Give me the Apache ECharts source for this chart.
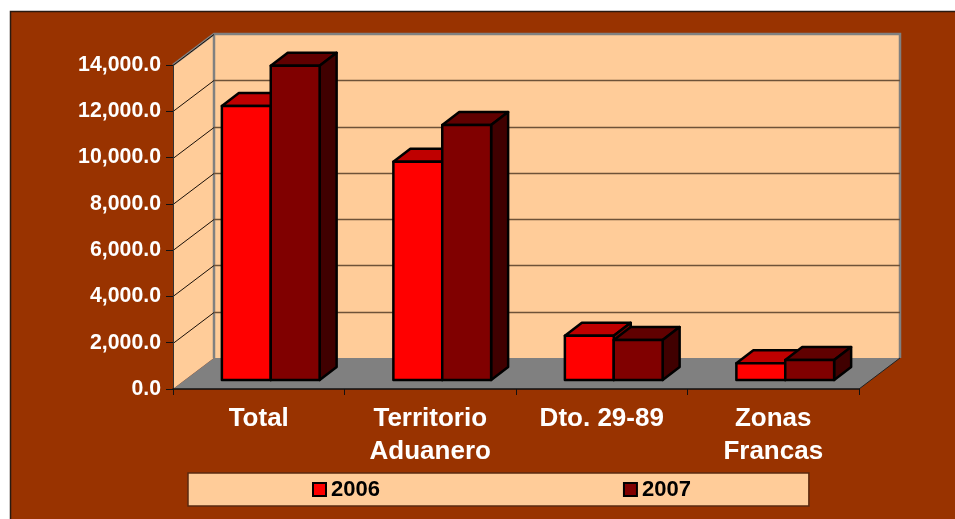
<!DOCTYPE html>
<html><head><meta charset="utf-8">
<style>html,body{margin:0;padding:0;background:#fff;}#c{width:955px;height:519px;}</style>
<script src="https://cdn.jsdelivr.net/npm/echarts@6/dist/echarts.min.js"></script>
</head><body><div id="c"></div>
<script>
const categories = ['Total', 'Territorio\nAduanero', 'Dto. 29-89', 'Zonas\nFrancas'];
const values2006 = [11840, 9430, 1910, 720];
const values2007 = [13580, 11020, 1730, 860];
const yTicks = [2000, 4000, 6000, 8000, 10000, 12000, 14000];
const font = '"Liberation Sans", Arial, sans-serif';
const DX = 41, DY = -31;        // full depth of the plot box
const BX = 12, BY = -9;         // bar front-plane offset
const PX = 17, PY = -13;        // bar depth
const chart = echarts.init(document.getElementById('c'), null, {renderer: 'canvas'});

function poly(points, fill, stroke, lw) {
  return {type: 'polygon', shape: {points}, style: {fill, stroke: stroke || 'none', lineWidth: lw || 0, lineJoin: 'round'}};
}
function wallItem(params, api) {
  const o = api.coord([0, 0]), t = api.coord([0, 14000]);
  const x0 = params.coordSys.x, x1 = params.coordSys.x + params.coordSys.width;
  const y0 = o[1], y1 = t[1];
  return {type: 'group', children: [
    poly([[x0, y0], [x0 + DX, y0 + DY], [x0 + DX, y1 + DY], [x0, y1]], '#FFCC99'),
    poly([[x0 + DX, y0 + DY], [x1 + DX, y0 + DY], [x1 + DX, y1 + DY], [x0 + DX, y1 + DY]], '#FFCC99'),
    poly([[x0, y0], [x0 + DX, y0 + DY], [x1 + DX, y0 + DY], [x1, y0]], '#808080'),
    {type: 'polyline', shape: {points: [[x0, y1], [x0 + DX, y1 + DY], [x1 + DX, y1 + DY], [x1 + DX, y0 + DY]]}, style: {fill: 'none', stroke: '#808080', lineWidth: 2.5}},
    {type: 'line', shape: {x1: x0 + DX, y1: y1 + DY, x2: x0 + DX, y2: y0 + DY}, style: {stroke: '#808080', lineWidth: 2.5}},
    {type: 'line', shape: {x1: x1, y1: y0, x2: x1 + DX, y2: y0 + DY}, style: {stroke: '#222', lineWidth: 1}}
  ]};
}
function gridItem(params, api) {
  const p = api.coord([0, api.value(0)]);
  const x0 = params.coordSys.x, x1 = x0 + params.coordSys.width, y = Math.round(p[1]) + 0.5;
  const children = [];
  children.push({type: 'line', shape: {x1: x0, y1: y, x2: x0 + DX, y2: y + DY}, style: {stroke: '#1a1008', lineWidth: 1}});
  if (api.value(0) < 14000)
    children.push({type: 'line', shape: {x1: x0 + DX, y1: y + DY, x2: x1 + DX, y2: y + DY}, style: {stroke: '#6e5238', lineWidth: 1.5}});
  return {type: 'group', children};
}
function makeBar(sign, front, top, side) {
  return function (params, api) {
    const c = api.value(0), v = api.value(1);
    const base = api.coord([c, 0]), head = api.coord([c, v]);
    const w = api.size([1, 0])[0] * 0.285;
    const cx = base[0] + BX;
    const l = sign < 0 ? cx - w : cx, r = sign < 0 ? cx : cx + w;
    const b = base[1] + BY, t = head[1] + BY;
    const st = '#000', lw = 2.5;
    return {type: 'group', children: [
      poly([[l, t], [r, t], [r + PX, t + PY], [l + PX, t + PY]], top, st, lw),
      poly([[r, t], [r + PX, t + PY], [r + PX, b + PY], [r, b]], side, st, lw),
      poly([[l, t], [r, t], [r, b], [l, b]], front, st, lw)
    ]};
  };
}
const option = {
  animation: false,
  backgroundColor: '#ffffff',
  graphic: [{type: 'rect', silent: true, z: -10, shape: {x: 10.5, y: 11.5, width: 960, height: 520},
    style: {fill: '#993300', stroke: '#2a1a10', lineWidth: 1.5}}],
  grid: {left: 173, right: 96, top: 65, bottom: 130, containLabel: false},
  legend: {
    data: ['2006', '2007'], left: 188, top: 473, orient: 'horizontal',
    padding: [5.5, 118, 5.5, 124], itemGap: 243, itemWidth: 13, itemHeight: 13,
    backgroundColor: '#FFCC99', borderColor: '#5a2a10', borderWidth: 1.5,
    selectedMode: false, icon: 'rect',
    textStyle: {fontFamily: font, fontWeight: 'bold', fontSize: 22, color: '#000'}
  },
  tooltip: {show: false},
  xAxis: {
    type: 'category', data: categories, z: 3,
    axisLine: {show: true, lineStyle: {color: '#111', width: 1.5}},
    axisTick: {show: true, length: 6, lineStyle: {color: '#111'}},
    axisLabel: {color: '#fff', fontFamily: font, fontWeight: 'bold', fontSize: 26, lineHeight: 33, margin: 13, interval: 0},
    splitLine: {show: false}
  },
  yAxis: {
    type: 'value', min: 0, max: 14000, interval: 2000, z: 3,
    axisLine: {show: true, lineStyle: {color: '#333', width: 1}},
    axisTick: {show: true, length: 7, lineStyle: {color: '#111'}},
    axisLabel: {color: '#fff', fontFamily: font, fontWeight: 'bold', fontSize: 21.3, margin: 12,
      formatter: v => v.toLocaleString('en-US', {minimumFractionDigits: 1, maximumFractionDigits: 1})},
    splitLine: {show: false}
  },
  series: [
    {type: 'custom', name: 'walls', silent: true, z: 1, renderItem: wallItem, data: [[0]], encode: {x: 0}},
    {type: 'custom', name: 'grid', silent: true, z: 1, renderItem: gridItem, data: yTicks.map(v => [v]), encode: {y: 0}},
    {type: 'custom', name: '2006', z: 4, silent: true, renderItem: makeBar(-1, '#FF0000', '#BF0000', '#800000'),
      itemStyle: {color: '#FF0000', borderColor: '#000', borderWidth: 2},
      data: values2006.map((v, i) => [i, v]), encode: {x: 0, y: 1}},
    {type: 'custom', name: '2007', z: 5, silent: true, renderItem: makeBar(1, '#800000', '#600000', '#400000'),
      itemStyle: {color: '#800000', borderColor: '#000', borderWidth: 2},
      data: values2007.map((v, i) => [i, v]), encode: {x: 0, y: 1}}
  ]
};
chart.setOption(option);
</script></body></html>
